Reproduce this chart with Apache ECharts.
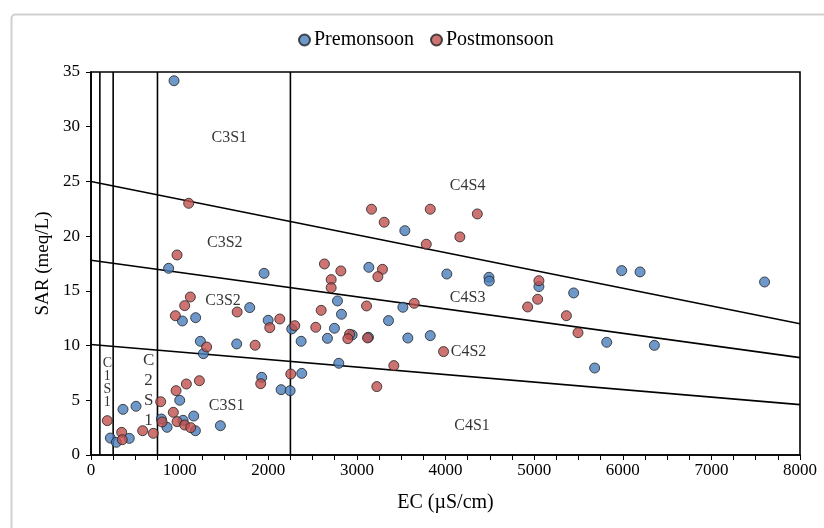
<!DOCTYPE html>
<html>
<head>
<meta charset="utf-8">
<script src="https://cdn.jsdelivr.net/npm/echarts@6/dist/echarts.min.js"></script>
<style>
  html, body { margin: 0; padding: 0; background: #fff; }
  #chart { width: 824px; height: 528px; }
</style>
</head>
<body>
<div id="chart"></div>
<script>
// Premonsoon samples (EC µS/cm, SAR meq/L)
const preEC = [937, 876, 1953, 1791, 1031, 1181, 1999, 2265, 2371, 1234, 1268, 1644, 1926, 2145, 2247, 2378,
  1001, 1159, 1039, 1178, 794, 858, 1460, 508, 361, 218, 286, 432, 3541, 3135, 4015, 4490, 4494, 5054, 5446,
  2781, 2826, 3519, 3357, 2747, 2668, 2947, 3131, 3575, 3828, 2796, 5988, 6195, 7600, 5819, 6357, 5683];
const preSAR = [34.2, 17.06, 16.6, 13.47, 12.25, 12.55, 12.31, 11.52, 10.39, 10.39, 9.26, 10.15, 7.1, 5.97, 5.88, 7.46,
  5.0, 3.56, 3.17, 2.22, 3.29, 2.53, 2.68, 4.45, 4.17, 1.55, 1.16, 1.52, 20.5, 17.15, 16.54, 16.24, 15.9, 15.39, 14.81,
  14.08, 12.86, 13.5, 12.28, 11.58, 10.66, 10.97, 10.76, 10.69, 10.91, 8.38, 16.85, 16.73, 15.81, 10.3, 10.02, 7.95];

// Postmonsoon samples
const postEC = [1102, 971, 1121, 1057, 952, 1649, 1305, 1852, 2130, 2017, 2299, 2536, 2597, 2254, 1915, 1223,
  1076, 960, 786, 929, 971, 802, 1057, 1125, 184, 346, 353, 583, 703, 3165, 3828, 4359, 3308, 4162, 3783,
  2634, 2819, 3289, 3237, 2710, 2710, 5054, 5040, 4927, 5364, 5495, 3647, 3109, 2917, 2898, 3120, 3978, 3417, 3225];
const postSAR = [23.0, 18.28, 14.44, 13.65, 12.73, 13.07, 9.87, 10.03, 12.43, 11.64, 11.82, 11.67, 13.22, 7.4, 6.52, 6.79,
  6.49, 5.88, 4.87, 3.9, 3.05, 3.02, 2.74, 2.5, 3.14, 2.07, 1.4, 2.22, 1.98, 22.46, 22.46, 22.03, 21.27, 19.93, 19.26,
  17.46, 16.82, 16.97, 16.3, 16.03, 15.29, 15.93, 14.23, 13.53, 12.73, 11.18, 13.86, 13.62, 11.03, 10.63, 10.7, 9.45, 8.17, 6.25];

// salinity class boundaries (EC) and sodicity boundaries (SAR at EC = 0 and EC = 8000)
const ecBounds = [100, 250, 750, 2250];
const sarBoundsStart = [25, 17.8, 10.1];
const sarBoundsEnd = [12, 8.9, 4.6];

// zone labels
const zoneNames = ["C3S1", "C3S2", "C3S2", "C3S1", "C4S4", "C4S3", "C4S2", "C4S1"];
const zoneEC = [1560, 1510, 1490, 1530, 4250, 4250, 4260, 4300];
const zoneSAR = [29.0, 19.35, 14.1, 4.5, 24.6, 14.4, 9.45, 2.7];
// narrow zones, written one letter per line
const stackNames = ["C1S1", "C2S1"];
const stackEC = [184, 650];
const stackSAR = [6.6, 5.85];

const xMin = 0, xMax = 8000, yMin = 0, yMax = 35;
const font = "Liberation Serif";

const zip = (a, b) => a.map((v, i) => [v, b[i]]);

const boundarySeries = [];
ecBounds.forEach(function (ec) {
  boundarySeries.push({
    type: "line", data: [[ec, yMin], [ec, yMax]], symbol: "none", silent: true,
    lineStyle: { color: "#000", width: 1.6 }, z: 1
  });
});
sarBoundsStart.forEach(function (s, i) {
  boundarySeries.push({
    type: "line", data: [[xMin, s], [xMax, sarBoundsEnd[i]]], symbol: "none", silent: true,
    lineStyle: { color: "#000", width: 1.6 }, z: 1
  });
});

const chart = echarts.init(document.getElementById("chart"));
chart.setOption({
  animation: false,
  textStyle: { fontFamily: font, color: "#000" },
  graphic: [{
    type: "rect", left: 9, top: 12,
    shape: { width: 900, height: 600, r: 4 },
    style: { fill: "none", stroke: "#d0d0d0", lineWidth: 2 }, silent: true
  }],
  legend: {
    top: 25, left: 293, itemGap: 16, itemWidth: 11, itemHeight: 11,
    icon: "circle",
    textStyle: { fontFamily: font, fontSize: 20, color: "#000", padding: [0, 0, 0, -1] },
    data: ["Premonsoon", "Postmonsoon"]
  },
  grid: { left: 91, right: 24, top: 72, bottom: 73, show: true, borderColor: "#000", borderWidth: 1.6 },
  xAxis: {
    type: "value", min: xMin, max: xMax, interval: 250,
    name: "EC (µS/cm)", nameLocation: "middle", nameGap: 38,
    nameTextStyle: { fontFamily: font, fontSize: 20, color: "#000" },
    axisLine: { lineStyle: { color: "#000", width: 1.6 } },
    axisTick: { show: true, length: 5, lineStyle: { color: "#000" } },
    splitLine: { show: false },
    axisLabel: {
      fontFamily: font, fontSize: 17, color: "#000", margin: 7,
      formatter: v => (v % 1000 === 0 ? String(v) : "")
    }
  },
  yAxis: {
    type: "value", min: yMin, max: yMax, interval: 5,
    name: "SAR (meq/L)", nameLocation: "middle", nameGap: 37,
    nameTextStyle: { fontFamily: font, fontSize: 19, color: "#000" },
    axisLine: { lineStyle: { color: "#000", width: 1.6 } },
    axisTick: { show: true, length: 5, lineStyle: { color: "#000" } },
    splitLine: { show: false },
    axisLabel: { fontFamily: font, fontSize: 17, color: "#000", margin: 11 }
  },
  series: boundarySeries.concat([
    {
      name: "Zones", type: "scatter", silent: true, symbolSize: 0, z: 2,
      data: zoneNames.map((n, i) => ({ value: [zoneEC[i], zoneSAR[i]], name: n })),
      label: {
        show: true, position: "inside", formatter: "{b}",
        fontFamily: font, fontSize: 16, color: "#000"
      }
    },
    {
      name: "Stacked zones", type: "scatter", silent: true, symbolSize: 0, z: 2,
      data: stackNames.map((n, i) => ({
        value: [stackEC[i], stackSAR[i]], name: n.split("").join("\n"),
        label: i === 0 ? { fontSize: 14, lineHeight: 13 } : { fontSize: 17, lineHeight: 20 }
      })),
      label: {
        show: true, position: "inside", formatter: "{b}",
        fontFamily: font, color: "#000"
      }
    },
    {
      name: "Premonsoon", type: "scatter", symbolSize: 10, z: 3,
      data: zip(preEC, preSAR),
      itemStyle: { color: "#4a7ebb", borderColor: "#222", borderWidth: 1 }
    },
    {
      name: "Postmonsoon", type: "scatter", symbolSize: 10, z: 3,
      data: zip(postEC, postSAR),
      itemStyle: { color: "#c0504d", borderColor: "#222", borderWidth: 1 }
    }
  ])
});
</script>
</body>
</html>
